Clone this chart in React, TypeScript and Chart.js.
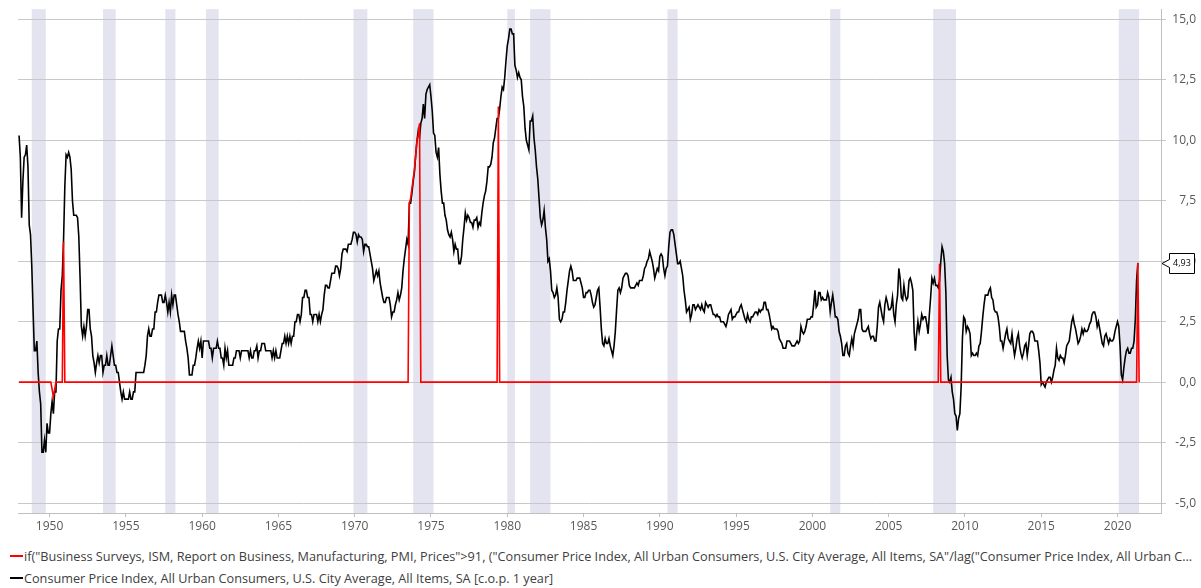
import React, { useEffect, useRef } from "react";
import { Chart, registerables } from "chart.js";

Chart.register(...registerables);

// ---- Data -----------------------------------------------------------------
// CPI (all urban consumers, SA) change over one year, %, monthly from 1948-01
const cpiStartYear = 1948;
const cpi1940s = [
  10.2, 9.3, 6.8, 8.3, 9.3, 9.4, 9.8, 8.9, 6.5, 6.1, 4.8, 3.0,
  1.3, 1.3, 1.7, 0.4, -0.4, -0.9, -2.9, -2.9, -2.4, -2.9, -1.7, -2.1,
];
const cpi1950s = [
  -2.1, -1.3, -0.8, -1.3, -0.4, -0.4, 1.7, 2.2, 2.2, 3.8, 4.4, 5.9,
  8.1, 9.4, 9.3, 9.5, 9.3, 8.8, 7.5, 6.9, 6.9, 6.9, 6.8, 6.0,
  4.3, 2.3, 1.9, 2.3, 1.9, 2.3, 3.0, 3.0, 2.2, 1.9, 1.1, 0.8,
  0.4, 0.8, 1.1, 0.8, 1.1, 1.1, 0.4, 0.7, 0.7, 1.1, 0.7, 0.7,
  1.1, 1.5, 1.1, 0.7, 0.7, 0.4, 0.4, 0.0, -0.4, -0.7, -0.4, -0.7,
  -0.7, -0.7, -0.7, -0.4, -0.7, -0.7, -0.4, -0.4, 0.4, 0.4, 0.4, 0.4,
  0.4, 0.4, 0.4, 0.7, 1.1, 1.9, 2.2, 1.9, 1.9, 2.2, 2.2, 2.9,
  2.9, 3.3, 3.6, 3.6, 3.6, 3.3, 3.3, 3.6, 3.3, 2.9, 3.3, 2.9,
  3.6, 3.2, 3.6, 3.6, 3.2, 2.8, 2.5, 2.1, 2.1, 2.1, 2.1, 1.7,
  1.4, 1.0, 0.3, 0.3, 0.3, 0.7, 0.7, 1.0, 1.4, 1.7, 1.4, 1.7,
];
const cpi1960s = [
  1.0, 1.7, 1.7, 1.7, 1.7, 1.7, 1.4, 1.4, 1.0, 1.4, 1.4, 1.4,
  1.7, 1.4, 1.4, 1.0, 1.0, 0.7, 1.4, 1.0, 1.3, 0.7, 0.7, 0.7,
  0.7, 1.0, 1.0, 1.3, 1.3, 1.3, 1.0, 1.3, 1.3, 1.3, 1.3, 1.3,
  1.3, 1.0, 1.3, 1.0, 1.0, 1.3, 1.3, 1.5, 1.0, 1.3, 1.3, 1.6,
  1.6, 1.6, 1.3, 1.3, 1.3, 1.3, 1.3, 1.0, 1.3, 1.0, 1.3, 1.0,
  1.0, 1.0, 1.3, 1.6, 1.6, 1.9, 1.6, 1.9, 1.6, 1.9, 1.6, 1.9,
  1.9, 2.5, 2.5, 2.8, 2.8, 2.5, 2.8, 3.5, 3.5, 3.8, 3.8, 3.5,
  3.5, 2.8, 2.8, 2.5, 2.8, 2.8, 2.8, 2.5, 2.8, 2.5, 2.8, 3.0,
  3.6, 4.0, 4.0, 3.9, 3.9, 4.2, 4.5, 4.5, 4.5, 4.8, 4.8, 4.7,
  4.4, 4.7, 5.3, 5.5, 5.5, 5.5, 5.4, 5.7, 5.7, 5.7, 5.9, 6.2,
];
const cpi1970s = [
  6.2, 6.1, 5.8, 6.1, 6.0, 6.0, 5.9, 5.4, 5.7, 5.7, 5.6, 5.6,
  5.3, 5.0, 4.7, 4.2, 4.4, 4.6, 4.4, 4.6, 4.1, 3.8, 3.5, 3.3,
  3.3, 3.5, 3.5, 3.5, 3.2, 2.7, 2.9, 2.9, 3.2, 3.4, 3.7, 3.4,
  3.6, 3.9, 4.6, 5.1, 5.5, 5.9, 5.7, 7.4, 7.4, 7.8, 8.3, 8.7,
  9.4, 10.0, 10.4, 10.1, 10.7, 10.9, 11.5, 10.9, 11.9, 12.1, 12.2, 12.3,
  11.8, 11.2, 10.3, 10.2, 9.5, 9.3, 9.7, 8.6, 7.9, 7.4, 7.4, 6.9,
  6.7, 6.3, 6.1, 6.0, 6.2, 5.9, 5.4, 5.7, 5.5, 5.5, 4.9, 4.9,
  5.2, 5.9, 6.4, 7.0, 6.7, 6.9, 6.8, 6.6, 6.6, 6.4, 6.7, 6.7,
  6.8, 6.4, 6.6, 6.5, 7.0, 7.4, 7.7, 7.9, 8.3, 8.9, 8.9, 9.0,
  9.3, 9.9, 10.1, 10.5, 10.9, 10.9, 11.3, 11.8, 12.2, 12.1, 12.6, 13.3,
];
const cpi1980s = [
  13.9, 14.2, 14.6, 14.6, 14.4, 14.4, 13.1, 12.9, 12.6, 12.8, 12.6, 12.5,
  11.8, 11.4, 10.5, 10.0, 9.8, 9.6, 10.8, 10.8, 11.0, 10.1, 9.6, 8.9,
  8.4, 7.6, 6.8, 6.5, 6.7, 7.1, 6.4, 5.9, 5.0, 5.1, 4.6, 3.8,
  3.7, 3.5, 3.6, 3.9, 3.5, 2.6, 2.5, 2.6, 2.9, 2.9, 3.3, 3.8,
  4.2, 4.6, 4.8, 4.6, 4.2, 4.2, 4.2, 4.3, 4.3, 4.3, 4.1, 3.9,
  3.5, 3.5, 3.7, 3.7, 3.8, 3.8, 3.6, 3.3, 3.1, 3.2, 3.5, 3.8,
  3.9, 3.1, 2.2, 1.6, 1.5, 1.8, 1.6, 1.6, 1.8, 1.5, 1.3, 1.1,
  1.5, 2.1, 3.0, 3.8, 3.9, 3.7, 3.9, 4.3, 4.4, 4.5, 4.5, 4.4,
  4.0, 3.9, 3.9, 3.9, 3.9, 4.0, 4.1, 4.0, 4.2, 4.2, 4.2, 4.4,
  4.7, 4.8, 5.0, 5.1, 5.4, 5.2, 5.0, 4.7, 4.3, 4.5, 4.7, 4.6,
];
const cpi1990s = [
  5.2, 5.3, 5.2, 4.7, 4.4, 4.7, 4.8, 5.6, 6.2, 6.3, 6.3, 6.1,
  5.7, 5.3, 4.9, 4.9, 5.0, 4.7, 4.4, 3.8, 3.4, 2.9, 3.0, 3.1,
  2.6, 2.8, 3.2, 3.2, 3.0, 3.1, 3.2, 3.1, 3.0, 3.2, 3.0, 2.9,
  3.3, 3.2, 3.1, 3.2, 3.2, 3.0, 2.8, 2.8, 2.7, 2.8, 2.7, 2.7,
  2.5, 2.5, 2.5, 2.4, 2.3, 2.5, 2.8, 2.9, 3.0, 2.6, 2.7, 2.7,
  2.8, 2.9, 2.9, 3.1, 3.2, 3.0, 2.8, 2.6, 2.5, 2.8, 2.6, 2.5,
  2.7, 2.7, 2.8, 2.9, 2.9, 2.8, 3.0, 2.9, 3.0, 3.0, 3.3, 3.3,
  3.0, 3.0, 2.8, 2.5, 2.2, 2.3, 2.2, 2.2, 2.2, 2.1, 1.8, 1.7,
  1.6, 1.4, 1.4, 1.4, 1.7, 1.7, 1.7, 1.6, 1.5, 1.5, 1.5, 1.6,
  1.7, 1.6, 1.7, 2.3, 2.1, 2.0, 2.1, 2.3, 2.6, 2.6, 2.6, 2.7,
];
const cpi2000s = [
  2.7, 3.2, 3.8, 3.1, 3.2, 3.7, 3.7, 3.4, 3.5, 3.4, 3.4, 3.4,
  3.7, 3.5, 2.9, 3.3, 3.6, 3.2, 2.7, 2.7, 2.6, 2.1, 1.9, 1.6,
  1.1, 1.1, 1.5, 1.6, 1.2, 1.1, 1.5, 1.8, 1.5, 2.0, 2.2, 2.4,
  2.6, 3.0, 3.0, 2.2, 2.1, 2.1, 2.1, 2.2, 2.3, 2.0, 1.8, 1.9,
  1.9, 1.7, 1.7, 2.3, 3.1, 3.3, 3.0, 2.7, 2.5, 3.2, 3.5, 3.3,
  3.0, 3.0, 3.1, 3.5, 2.8, 2.5, 3.2, 3.6, 4.7, 4.3, 3.5, 3.4,
  4.0, 3.6, 3.4, 3.5, 4.2, 4.3, 4.1, 3.8, 2.1, 1.3, 2.0, 2.5,
  2.1, 2.4, 2.8, 2.6, 2.7, 2.7, 2.4, 2.0, 2.8, 3.5, 4.3, 4.1,
  4.3, 4.0, 4.0, 3.9, 4.2, 5.0, 5.6, 5.4, 4.9, 3.7, 1.1, 0.1,
  0.0, 0.2, -0.4, -0.7, -1.3, -1.4, -2.0, -1.5, -1.3, -0.2, 1.8, 2.7,
];
const cpi2010s = [
  2.6, 2.1, 2.3, 2.2, 2.0, 1.1, 1.2, 1.1, 1.1, 1.2, 1.1, 1.5,
  1.6, 2.1, 2.7, 3.2, 3.6, 3.6, 3.6, 3.8, 3.9, 3.5, 3.4, 3.0,
  2.9, 2.9, 2.7, 2.3, 1.7, 1.7, 1.4, 1.7, 2.0, 2.2, 1.8, 1.7,
  1.6, 2.0, 1.5, 1.1, 1.4, 1.8, 2.0, 1.5, 1.2, 1.0, 1.2, 1.5,
  1.6, 1.1, 1.5, 2.0, 2.1, 2.1, 2.0, 1.7, 1.7, 1.7, 1.3, 0.8,
  -0.1, 0.0, -0.1, -0.2, 0.0, 0.1, 0.2, 0.2, 0.0, 0.2, 0.5, 0.7,
  1.4, 1.0, 0.9, 1.1, 1.0, 1.0, 0.8, 1.1, 1.5, 1.6, 1.7, 2.1,
  2.5, 2.7, 2.4, 2.2, 1.9, 1.6, 1.7, 1.9, 2.2, 2.0, 2.2, 2.1,
  2.1, 2.2, 2.4, 2.5, 2.8, 2.9, 2.9, 2.7, 2.3, 2.5, 2.2, 1.9,
  1.6, 1.5, 1.9, 2.0, 1.8, 1.6, 1.8, 1.7, 1.7, 1.8, 2.1, 2.3,
];
const cpi2020s = [
  2.5, 2.3, 1.5, 0.3, 0.1, 0.6, 1.0, 1.3, 1.4, 1.2, 1.2, 1.4,
  1.4, 1.7, 2.6, 4.2, 4.93,
];

// Red series: CPI y/y when ISM prices paid > 91, otherwise 0 (breakpoints)
const redDates = [
  "1948-01", "1950-02", "1950-04", "1950-06", "1950-11", "1950-12", "1951-01",
  "1973-07", "1973-08", "1973-09", "1973-10", "1973-11", "1973-12",
  "1974-01", "1974-02", "1974-03", "1974-04", "1974-05",
  "1979-05", "1979-06", "1979-07",
  "2008-04", "2008-05", "2008-06",
  "2021-04", "2021-05", "2021-06",
];
const redValues = [
  0, 0, -0.6, 0, 0, 5.8, 0,
  0, 7.4, 7.6, 8.0, 8.4, 8.8,
  9.4, 10.0, 10.2, 10.7, 0,
  0, 11.4, 0,
  0, 4.9, 0,
  0, 4.93, 0,
];

// Recessions (NBER peak month -> trough month)
const recessionStarts = [
  "1948-11", "1953-07", "1957-08", "1960-04", "1969-12", "1973-11",
  "1980-01", "1981-07", "1990-07", "2001-03", "2007-12", "2020-02",
];
const recessionEnds = [
  "1949-10", "1954-05", "1958-04", "1961-02", "1970-11", "1975-03",
  "1980-07", "1982-11", "1991-03", "2001-11", "2009-06", "2021-06",
];

const xTickYears = [1950, 1955, 1960, 1965, 1970, 1975, 1980, 1985, 1990, 1995, 2000, 2005, 2010, 2015, 2020];
const yTickValues = [-5, -2.5, 0, 2.5, 5, 7.5, 10, 12.5, 15];

const lastValueLabel = "4,93";

const redLabel =
  'if("Business Surveys, ISM, Report on Business, Manufacturing, PMI, Prices">91, ("Consumer Price Index, All Urban Consumers, U.S. City Average, All Items, SA"/lag("Consumer Price Index, All Urban Consumers, U.S. City Average, All Items, SA", 12)-1)*100, 0)';
const blackLabel =
  "Consumer Price Index, All Urban Consumers, U.S. City Average, All Items, SA [c.o.p. 1 year]";

// ---- Helpers --------------------------------------------------------------
const monthToYear = (s: string) => {
  const [y, m] = s.split("-").map(Number);
  return y + (m - 1) / 12;
};

const FONT = "'Open Sans', 'Noto Sans', sans-serif";

export default function App() {
  const canvasRef = useRef<HTMLCanvasElement | null>(null);

  useEffect(() => {
    const canvas = canvasRef.current;
    if (!canvas) return;

    const cpiAll = [
      ...cpi1940s, ...cpi1950s, ...cpi1960s, ...cpi1970s, ...cpi1980s,
      ...cpi1990s, ...cpi2000s, ...cpi2010s, ...cpi2020s,
    ];
    const cpiPoints = cpiAll.map((v, i) => ({ x: cpiStartYear + i / 12, y: v }));
    const redPoints = redDates.map((d, i) => ({ x: monthToYear(d), y: redValues[i] }));
    const lastValue = cpiAll[cpiAll.length - 1];

    const bandsPlugin = {
      id: "recessionBands",
      beforeDraw(chart: any) {
        const { ctx, chartArea, scales } = chart;
        const xs = scales.x;
        ctx.save();
        ctx.fillStyle = "#e4e4f0";
        recessionStarts.forEach((s, i) => {
          const x0 = xs.getPixelForValue(monthToYear(s));
          const x1 = xs.getPixelForValue(monthToYear(recessionEnds[i]));
          ctx.fillRect(x0, chartArea.top, x1 - x0, chartArea.bottom - chartArea.top);
        });
        ctx.restore();
      },
    };

    const valueBoxPlugin = {
      id: "valueBox",
      afterDraw(chart: any) {
        const { ctx, chartArea, scales } = chart;
        const y = Math.round(scales.y.getPixelForValue(lastValue)) + 0.5;
        const tip = chartArea.right + 1;
        const left = tip + 7.5;
        const right = left + 25;
        ctx.save();
        ctx.beginPath();
        ctx.moveTo(left, y - 10);
        ctx.lineTo(right, y - 10);
        ctx.lineTo(right, y + 10);
        ctx.lineTo(left, y + 10);
        ctx.lineTo(left, y + 4);
        ctx.lineTo(tip, y);
        ctx.lineTo(left, y - 4);
        ctx.closePath();
        ctx.fillStyle = "#ffffff";
        ctx.fill();
        ctx.strokeStyle = "#000000";
        ctx.lineWidth = 1;
        ctx.stroke();
        ctx.fillStyle = "#000000";
        ctx.font = `9px ${FONT}`;
        ctx.textAlign = "center";
        ctx.textBaseline = "middle";
        ctx.fillText(lastValueLabel, (left + right) / 2, y);
        ctx.restore();
      },
    };

    const chart = new Chart(canvas, {
      type: "line",
      data: {
        datasets: [
          {
            label: "red",
            data: redPoints,
            borderColor: "#ff0000",
            borderWidth: 1.6,
            pointRadius: 0,
            tension: 0,
            fill: false,
          },
          {
            label: "black",
            data: cpiPoints,
            borderColor: "#000000",
            borderWidth: 1.6,
            pointRadius: 0,
            tension: 0,
            fill: false,
          },
        ],
      },
      options: {
        animation: false,
        responsive: false,
        devicePixelRatio: 1,
        parsing: false as any,
        normalized: true,
        layout: { padding: { left: 18, right: 5, top: 5, bottom: 0 } },
        plugins: {
          legend: { display: false },
          tooltip: { enabled: false },
          title: { display: false },
        },
        scales: {
          x: {
            type: "linear",
            position: "bottom",
            min: 1947.93,
            max: 2022.85,
            afterBuildTicks: (scale: any) => {
              scale.ticks = xTickYears.map((v) => ({ value: v }));
            },
            afterFit: (scale: any) => {
              scale.height = 32;
            },
            grid: {
              drawOnChartArea: false,
              drawTicks: true,
              tickLength: 4,
              color: "#bfbfbf",
            },
            border: { display: true, color: "#bfbfbf" },
            ticks: {
              autoSkip: false,
              maxRotation: 0,
              padding: 2,
              color: "#595959",
              font: { family: FONT, size: 12 },
              callback: (v: any) => String(v),
            },
          },
          y: {
            type: "linear",
            position: "right",
            min: -5.41,
            max: 15.42,
            afterBuildTicks: (scale: any) => {
              scale.ticks = yTickValues.map((v) => ({ value: v }));
            },
            afterFit: (scale: any) => {
              scale.width = 35;
            },
            grid: {
              color: "#c8c8c8",
              drawTicks: true,
              tickLength: 5,
            },
            border: { display: true, color: "#bfbfbf" },
            ticks: {
              crossAlign: "far",
              padding: 2,
              color: "#595959",
              font: { family: FONT, size: 12 },
              callback: (v: any) => Number(v).toFixed(1).replace(".", ","),
            },
          },
        },
      },
      plugins: [bandsPlugin, valueBoxPlugin],
    });

    return () => chart.destroy();
  }, []);

  const legendRow = (color: string, text: string): React.ReactElement => (
    <div
      style={{
        display: "flex",
        alignItems: "center",
        height: 22,
        paddingLeft: 10,
        paddingRight: 8,
        whiteSpace: "nowrap",
        overflow: "hidden",
      }}
    >
      <span
        style={{
          display: "inline-block",
          width: 13,
          height: 2.5,
          background: color,
          marginRight: 1,
          flex: "0 0 auto",
        }}
      />
      <span
        style={{
          overflow: "hidden",
          textOverflow: "ellipsis",
          whiteSpace: "nowrap",
          color: "#404040",
        }}
      >
        {text}
      </span>
    </div>
  );

  return (
    <div
      style={{
        position: "absolute",
        left: 0,
        top: 0,
        width: 1201,
        height: 588,
        background: "#ffffff",
        fontFamily: FONT,
        fontSize: 12.7,
        overflow: "hidden",
      }}
    >
      <canvas ref={canvasRef} width={1201} height={545} style={{ display: "block" }} />
      {legendRow("#ff0000", redLabel)}
      {legendRow("#000000", blackLabel)}
    </div>
  );
}
